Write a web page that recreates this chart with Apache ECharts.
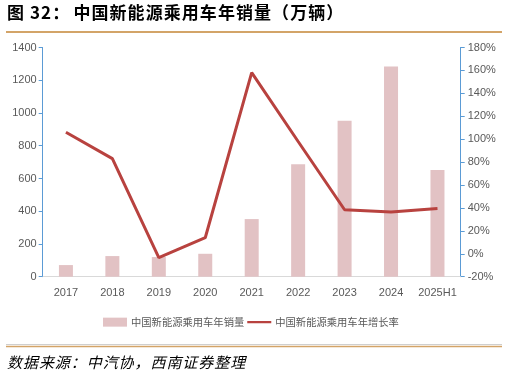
<!DOCTYPE html>
<html><head><meta charset="utf-8">
<script src="https://cdn.jsdelivr.net/npm/echarts@6/dist/echarts.min.js"></script>
<style>html,body{margin:0;padding:0;background:#fff}#c{width:508px;height:378px}</style>
</head><body><div id="c"></div>
<script>
const categories = ['2017','2018','2019','2020','2021','2022','2023','2024','2025H1'];
const salesValues = [71, 126, 120, 140, 352, 687, 952, 1284, 652];
const growthValues = [106, 83, -3.4, 14, 158, 98, 38.4, 36.4, 39.5];
const leftTicks = {min: 0, max: 1400, interval: 200};
const rightTicks = {min: -20, max: 180, interval: 20};
const titlePrefix = '图 32：';
const titleText = '中国新能源乘用车年销量（万辆）';
const sourceText = '数据来源：中汽协，西南证券整理';
const seriesNames = ['中国新能源乘用车年销量', '中国新能源乘用车年增长率'];

const spaced = (s, sp) => Array.from(s).join(sp);
const FONT = '"Liberation Sans", "Noto Sans CJK SC", sans-serif';
const chart = echarts.init(document.getElementById('c'));
chart.setOption({
  animation: false,
  backgroundColor: '#fff',
  grid: {left: 42.7, right: 47.3, top: 47.5, bottom: 101.3, containLabel: false},
  graphic: [
    {type: 'text', left: 7, top: 4, style: {text: spaced(titlePrefix, '\u200A') + '\u2005' + spaced(titleText, '\u200A'), font: 'bold 17px "Noto Sans CJK SC"', fill: '#000'}},
    {type: 'line', shape: {x1: 6, y1: 32, x2: 502, y2: 32}, style: {stroke: '#D3A468', lineWidth: 2}},
    {type: 'line', shape: {x1: 6, y1: 344.5, x2: 502, y2: 344.5}, style: {stroke: '#cfcfcf', lineWidth: 1}},
    {type: 'line', shape: {x1: 6, y1: 346.5, x2: 502, y2: 346.5}, style: {stroke: '#D3A468', lineWidth: 1.5}},
    {type: 'text', left: 7, top: 355, style: {text: spaced(sourceText, '\u200A'), font: 'italic 15px "Noto Sans CJK SC"', fill: '#000'}}
  ],
  legend: {
    top: 317, left: 103, padding: 0,
    itemWidth: 24, itemHeight: 9, itemGap: 3,
    textStyle: {fontFamily: '"Noto Sans CJK SC"', fontSize: 10.3, color: '#595959', padding: [0, 0, 0, -1]},
    data: [
      {name: seriesNames[0], icon: 'rect'},
      {name: seriesNames[1], icon: 'path://M0,0 L0.01,0 L0.01,0.01 Z M0,3.3 L24,3.3 L24,5.7 L0,5.7 Z M23.99,9 L24,9 L24,8.99 Z'}
    ]
  },
  xAxis: {
    type: 'category', data: categories,
    axisLine: {lineStyle: {color: '#d9d9d9', width: 1}},
    axisTick: {show: false},
    axisLabel: {color: '#595959', fontFamily: FONT, fontSize: 11, margin: 11, interval: 0}
  },
  yAxis: [
    {type: 'value', min: leftTicks.min, max: leftTicks.max, interval: leftTicks.interval,
     axisLine: {show: true, lineStyle: {color: '#5B9BD5', width: 1}},
     axisTick: {show: true, length: 4, lineStyle: {color: '#5B9BD5'}},
     splitLine: {show: false},
     axisLabel: {color: '#595959', fontFamily: FONT, fontSize: 11, margin: 6, formatter: v => String(v)}},
    {type: 'value', min: rightTicks.min, max: rightTicks.max, interval: rightTicks.interval,
     position: 'right',
     axisLine: {show: true, lineStyle: {color: '#5B9BD5', width: 1}},
     axisTick: {show: true, length: 4, lineStyle: {color: '#5B9BD5'}},
     splitLine: {show: false},
     axisLabel: {color: '#595959', fontFamily: FONT, fontSize: 11, margin: 7, formatter: '{value}%'}}
  ],
  series: [
    {name: seriesNames[0], type: 'bar', data: salesValues, barWidth: 14, yAxisIndex: 0,
     itemStyle: {color: '#E2C2C4'}},
    {name: seriesNames[1], type: 'line', data: growthValues, yAxisIndex: 1,
     symbol: 'none', lineStyle: {color: '#B8423F', width: 3}, itemStyle: {color: '#B8423F'}}
  ]
});
</script></body></html>
